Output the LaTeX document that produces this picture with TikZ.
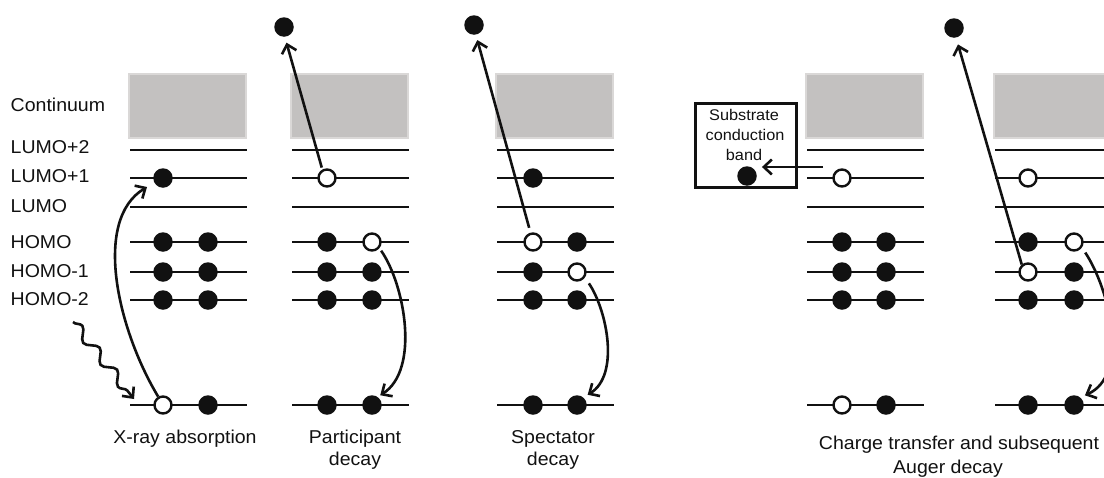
\documentclass[tikz,border=0pt]{standalone}
\usepackage{fontspec}
\setmainfont{Liberation Sans}[FakeStretch=1.05]
\usetikzlibrary{arrows.meta,decorations.pathmorphing}
\definecolor{boxfill}{RGB}{195,193,192}
\definecolor{boxedge}{RGB}{218,216,215}
\definecolor{ink}{RGB}{17,17,17}

\begin{document}
\begin{tikzpicture}[x=1pt,y=-1pt,
  level/.style={line width=2.8pt, draw=ink},
  band/.style={fill=boxfill, draw=boxedge, line width=2.4pt},
  fe/.style={circle, fill=ink, inner sep=0pt, minimum size=19.5pt},
  he/.style={circle, fill=white, draw=ink, line width=2.4pt, inner sep=0pt, minimum size=17pt},
  arr/.style={line width=2.6pt, draw=ink, -{Straight Barb[length=8pt,width=15pt]}},
  lab/.style={font=\fontsize{18.6}{22}\selectfont, text=ink, anchor=base west, inner sep=0pt},
  captext/.style={font=\fontsize{18.6}{22}\selectfont, text=ink, anchor=base, inner sep=0pt},
  sublab/.style={font=\fontsize{15.5}{18}\selectfont, text=ink, anchor=base, inner sep=0pt},
]
\useasboundingbox (0,0) rectangle (1104,477);
\clip (0,0) rectangle (1104,477);

% continuum bands
\foreach \x in {129,291,496,806,994}
  \draw[band] (\x,74) rectangle ++(117,64);

% energy levels
\foreach \x in {130,292,497,807,995}
  \foreach \y in {150,178,242,272,300,405}
    \draw[level] (\x,\y) -- ++(117,0);
\foreach \x in {130,292,497,807}
  \draw[level] (\x,207) -- ++(117,0);
\draw[level, line width=1.2pt] (995,207) -- ++(117,0);

% level names
\node[lab] (tcont) at (10.5,111) {Continuum};
\node[lab] (tl2) at (10.5,153) {LUMO+2};
\node[lab] (tl1) at (10.5,182) {LUMO+1};
\node[lab] (tl0) at (10.5,212) {LUMO};
\node[lab] (th0) at (10.5,248) {HOMO};
\node[lab] (th1) at (10.5,277) {HOMO-1};
\node[lab] (th2) at (10.5,305) {HOMO-2};

% X-ray absorption
\node[fe] (p1l1a) at (163,178) {};
\node[fe] (p1h0a) at (163,242) {}; \node[fe] (p1h0b) at (208,242) {};
\node[fe] (p1h1a) at (163,272) {}; \node[fe] (p1h1b) at (208,272) {};
\node[fe] (p1h2a) at (163,300) {}; \node[fe] (p1h2b) at (208,300) {};
\node[he] (p1ca) at (163,405) {}; \node[fe] (p1cb) at (208,405) {};
\coordinate (x1tip) at (147,187);
\coordinate (wv) at (73,322);
\coordinate (wvtip) at (134,399);

% participant decay
\node[he] (p2l1a) at (327,178) {};
\node[fe] (p2h0a) at (327,242) {}; \node[he] (p2h0b) at (372,242) {};
\node[fe] (p2h1a) at (327,272) {}; \node[fe] (p2h1b) at (372,272) {};
\node[fe] (p2h2a) at (327,300) {}; \node[fe] (p2h2b) at (372,300) {};
\node[fe] (p2ca) at (327,405) {}; \node[fe] (p2cb) at (372,405) {};
\node[fe] (p2top) at (284,27) {};

% spectator decay
\node[fe] (p3l1a) at (533,178) {};
\node[he] (p3h0a) at (533,242) {}; \node[fe] (p3h0b) at (577,242) {};
\node[fe] (p3h1a) at (533,272) {}; \node[he] (p3h1b) at (577,272) {};
\node[fe] (p3h2a) at (533,300) {}; \node[fe] (p3h2b) at (577,300) {};
\node[fe] (p3ca) at (533,405) {}; \node[fe] (p3cb) at (577,405) {};
\node[fe] (p3top) at (474,25) {};

% charge transfer
\node[he] (p4l1a) at (842,178) {};
\node[fe] (p4h0a) at (842,242) {}; \node[fe] (p4h0b) at (886,242) {};
\node[fe] (p4h1a) at (842,272) {}; \node[fe] (p4h1b) at (886,272) {};
\node[fe] (p4h2a) at (842,300) {}; \node[fe] (p4h2b) at (886,300) {};
\node[he] (p4ca) at (842,405) {}; \node[fe] (p4cb) at (886,405) {};
\node[draw=ink, line width=2.6pt, minimum width=101.4pt, minimum height=84.4pt, inner sep=0pt] (sub) at (746,145.5) {};
\node[sublab] (st1) at (744,120) {Substrate};
\node[sublab] (st2) at (745,140) {conduction};
\node[sublab] (st3) at (744,160) {band};
\node[fe] (subel) at (747,176) {};
\coordinate (ct) at (823,167);

% subsequent Auger decay
\node[he] (p5l1a) at (1028,178) {};
\node[fe] (p5h0a) at (1028,242) {}; \node[he] (p5h0b) at (1074,242) {};
\node[he] (p5h1a) at (1028,272) {}; \node[fe] (p5h1b) at (1074,272) {};
\node[fe] (p5h2a) at (1028,300) {}; \node[fe] (p5h2b) at (1074,300) {};
\node[fe] (p5ca) at (1028,405) {}; \node[fe] (p5cb) at (1074,405) {};
\node[fe] (p5top) at (954,28) {};

% transitions
\draw[arr] (p1ca.120) .. controls (118,330) and (92,220) .. (x1tip);
\draw[arr, decorate, decoration={snake, amplitude=5pt, segment length=28pt, post length=7pt}] (wv) -- (wvtip);
\draw[arr, shorten <=2pt, shorten >=6pt] (p2l1a.119) -- (p2top.-85);
\draw[arr, shorten <=3pt, shorten >=3pt] (p2h0b.-40) .. controls (405,285) and (420,370) .. (p2cb.55);
\draw[arr, shorten <=5pt, shorten >=5.5pt] (p3h0a.105) -- (p3top.-79);
\draw[arr, shorten <=7pt, shorten >=5pt] (p3h1b.-35) .. controls (607,310) and (620,375) .. (p3cb.50);
\draw[arr, shorten >=5pt] (ct) -- (ct -| subel.east);
\draw[arr, shorten >=7pt] (p5h1a.130) -- (p5top.-78);
\draw[arr, shorten <=6pt, shorten >=5pt] (p5h0b.-35) .. controls (1110,290) and (1130,375) .. (p5cb.50);

% captions
\node[captext] (c1) at (185,443) {X-ray absorption};
\node[captext] (c2a) at (355,443) {Participant};
\node[captext] (c2b) at (355,465) {decay};
\node[captext] (c3a) at (553,443) {Spectator};
\node[captext] (c3b) at (553,465) {decay};
\node[captext] (c4a) at (959,449) {Charge transfer and subsequent};
\node[captext] (c4b) at (948,473) {Auger decay};
\end{tikzpicture}
\end{document}
